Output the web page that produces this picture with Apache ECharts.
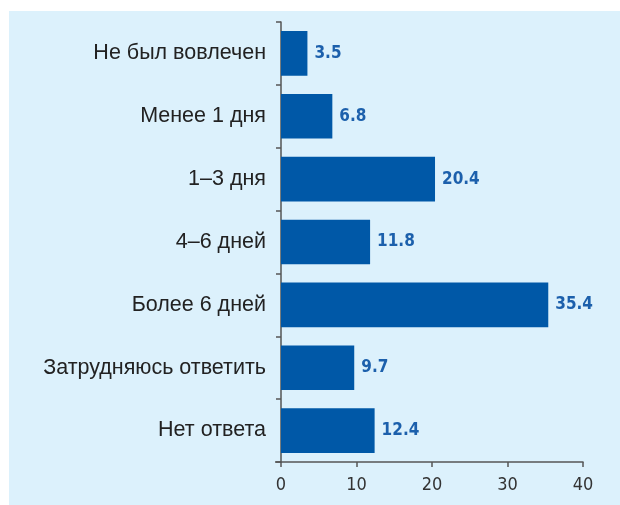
<!DOCTYPE html>
<html>
<head>
<meta charset="utf-8">
<script src="https://cdn.jsdelivr.net/npm/echarts@6/dist/echarts.min.js"></script>
<style>
html,body{margin:0;padding:0;background:#fff;}
#c{width:620px;height:505px;}
</style>
</head>
<body>
<div id="c"></div>
<script>
const categories = ["Не был вовлечен", "Менее 1 дня", "1–3 дня", "4–6 дней", "Более 6 дней", "Затрудняюсь ответить", "Нет ответа"];
const values = [3.5, 6.8, 20.4, 11.8, 35.4, 9.7, 12.4];
const xTicks = [0, 10, 20, 30, 40];

const condensed = "'DejaVu Sans Condensed', 'Liberation Sans Narrow', sans-serif";
const chart = echarts.init(document.getElementById('c'), null, {renderer: 'canvas'});
chart.setOption({
  backgroundColor: '#fff',
  animation: false,
  graphic: [{
    type: 'rect', z: -10, silent: true,
    shape: {x: 9, y: 11, width: 611, height: 494},
    style: {fill: '#DCF1FC'}
  }, {
    type: 'line', silent: true, z: 10,
    shape: {x1: 275, y1: 462, x2: 281, y2: 462},
    style: {stroke: '#555', lineWidth: 1.5}
  }],
  grid: {left: 281, right: 37, top: 22, bottom: 43, containLabel: false},
  xAxis: {
    type: 'value', min: xTicks[0], max: xTicks[xTicks.length - 1], interval: 10,
    axisLine: {show: true, lineStyle: {color: '#555', width: 1.5}},
    axisTick: {show: true, length: 5, lineStyle: {color: '#555', width: 1.5}},
    splitLine: {show: false},
    axisLabel: {color: '#333', fontSize: 18, fontFamily: condensed, margin: 14}
  },
  yAxis: {
    type: 'category', data: categories, inverse: true,
    axisLine: {show: true, lineStyle: {color: '#555', width: 1.5}},
    axisTick: {show: true, length: 5, lineStyle: {color: '#555', width: 1.5}},
    axisLabel: {color: '#222', fontSize: 21.5, fontFamily: 'Liberation Sans', margin: 15}
  },
  series: [{
    type: 'bar', data: values, barCategoryGap: '29%',
    itemStyle: {color: '#0058A7'},
    label: {show: true, position: 'right', distance: 7, color: '#1C60AC',
      fontSize: 17, fontWeight: 'bold', fontFamily: condensed,
      formatter: p => p.value.toFixed(1)}
  }]
});
</script>
</body>
</html>
